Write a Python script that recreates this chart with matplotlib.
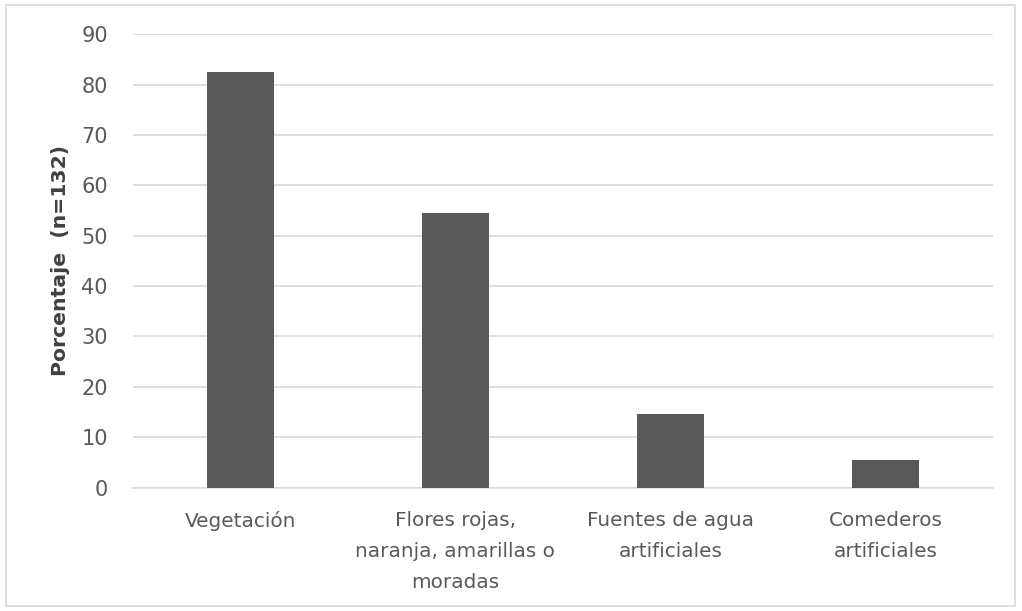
import matplotlib.pyplot as plt
import numpy as np
from matplotlib.patches import Rectangle

categorias = ['Vegetación', 'Flores rojas,\nnaranja, amarillas o\nmoradas',
              'Fuentes de agua\nartificiales', 'Comederos\nartificiales']
porcentajes = [82.6, 54.5, 14.7, 5.4]
yticks = [0, 10, 20, 30, 40, 50, 60, 70, 80, 90]

plt.rcParams['font.family'] = ['DejaVu Sans']

fig = plt.figure(figsize=(10.22, 6.11), dpi=100)
ax = fig.add_axes([0.130, 0.2021, 0.8416, 0.7416])

# borde exterior del gráfico
fig.patches.append(Rectangle((0.006, 0.009), 0.987, 0.982, transform=fig.transFigure,
                             fill=False, edgecolor='#d9d9d9', linewidth=1.2))

x = np.arange(len(categorias))
ax.bar(x, porcentajes, width=0.314, color='#595959', zorder=3)

ax.set_xlim(-0.5, len(categorias) - 0.5)
ax.set_ylim(0, 90)
ax.set_yticks(yticks)
ax.yaxis.grid(True, color='#d9d9d9', linewidth=1.2, zorder=0)
for s in ['top', 'right', 'left']:
    ax.spines[s].set_visible(False)
ax.spines['bottom'].set_color('#d9d9d9')
ax.spines['bottom'].set_linewidth(1.2)

ax.set_xticks(x)
ax.set_xticklabels(categorias, fontsize=14.4, color='#595959', linespacing=1.78, va='top')
ax.tick_params(axis='both', length=0)
ax.tick_params(axis='x', pad=17)
ax.tick_params(axis='y', pad=18, labelsize=15, labelcolor='#595959')

ax.set_ylabel('Porcentaje  (n=132)', fontsize=14.7, fontweight='bold', color='#404040')
ax.yaxis.set_label_coords(-0.073, 0.5)

fig.savefig('out.png', dpi=100)
